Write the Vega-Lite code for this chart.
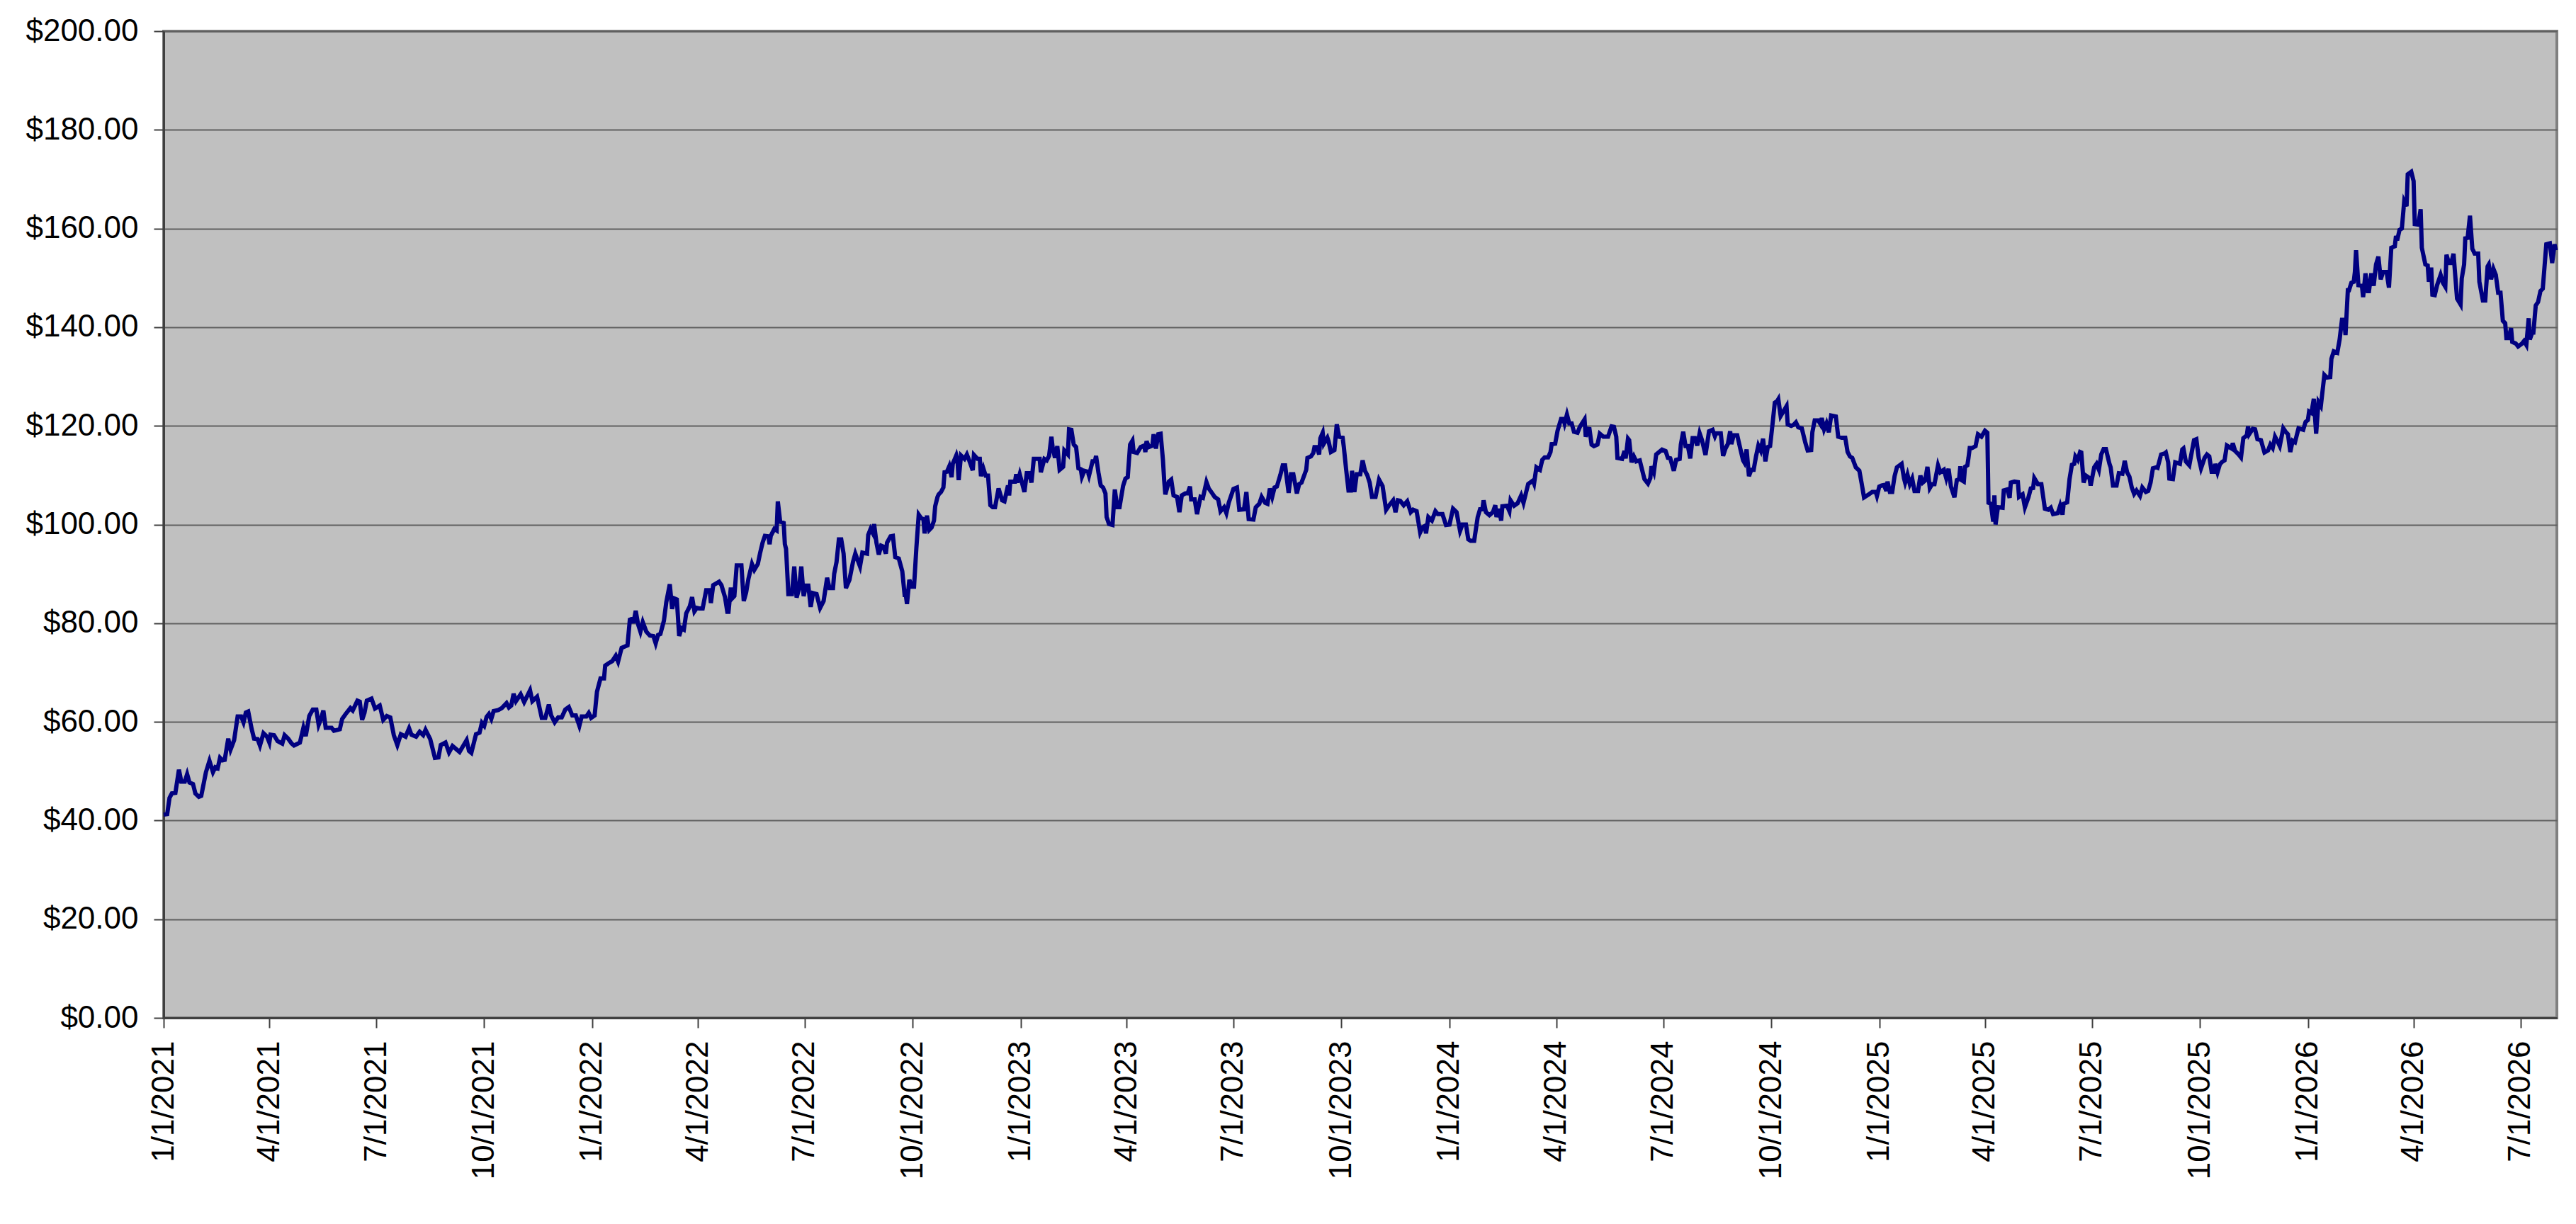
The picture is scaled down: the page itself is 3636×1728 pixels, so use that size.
{
  "$schema": "https://vega.github.io/schema/vega-lite/v6.json",
  "width": 3378,
  "height": 1393,
  "autosize": "none",
  "padding": {"left": 231, "top": 44, "right": 28, "bottom": 291},
  "background": "white",
  "config": {
    "view": {"fill": "#C0C0C0", "stroke": "#808080", "strokeWidth": 4},
    "axis": {
      "labelFont": "Liberation Sans",
      "labelFontSize": 44,
      "labelColor": "black",
      "labelLimit": 500,
      "tickColor": "#404040",
      "tickWidth": 2,
      "tickSize": 14,
      "domainColor": "#404040",
      "domainWidth": 3
    }
  },
  "data": {
    "values": [
      {"date": "2021-01-01", "price": 41.2}, {"date": "2021-01-04", "price": 41.3}, {"date": "2021-01-06", "price": 44.6}, {"date": "2021-01-08", "price": 45.5},
      {"date": "2021-01-11", "price": 45.6}, {"date": "2021-01-14", "price": 50.3}, {"date": "2021-01-16", "price": 47.9}, {"date": "2021-01-19", "price": 47.9},
      {"date": "2021-01-21", "price": 49.4}, {"date": "2021-01-23", "price": 47.7}, {"date": "2021-01-26", "price": 47.4}, {"date": "2021-01-28", "price": 45.5},
      {"date": "2021-01-31", "price": 44.8}, {"date": "2021-02-02", "price": 45.0}, {"date": "2021-02-06", "price": 49.8}, {"date": "2021-02-09", "price": 52.1},
      {"date": "2021-02-12", "price": 49.8}, {"date": "2021-02-14", "price": 50.8}, {"date": "2021-02-16", "price": 50.6}, {"date": "2021-02-18", "price": 52.7},
      {"date": "2021-02-20", "price": 52.2}, {"date": "2021-02-22", "price": 52.3}, {"date": "2021-02-25", "price": 56.6}, {"date": "2021-02-27", "price": 54.4},
      {"date": "2021-03-02", "price": 56.3}, {"date": "2021-03-05", "price": 61.1}, {"date": "2021-03-08", "price": 61.1}, {"date": "2021-03-10", "price": 59.9},
      {"date": "2021-03-12", "price": 61.9}, {"date": "2021-03-14", "price": 62.1}, {"date": "2021-03-17", "price": 58.5}, {"date": "2021-03-19", "price": 56.6},
      {"date": "2021-03-22", "price": 56.5}, {"date": "2021-03-24", "price": 55.2}, {"date": "2021-03-27", "price": 57.7}, {"date": "2021-03-30", "price": 57.0},
      {"date": "2021-04-01", "price": 55.8}, {"date": "2021-04-02", "price": 57.4}, {"date": "2021-04-05", "price": 57.3}, {"date": "2021-04-08", "price": 56.1},
      {"date": "2021-04-12", "price": 55.6}, {"date": "2021-04-14", "price": 57.3}, {"date": "2021-04-17", "price": 56.6}, {"date": "2021-04-20", "price": 55.6},
      {"date": "2021-04-22", "price": 55.2}, {"date": "2021-04-27", "price": 55.8}, {"date": "2021-04-30", "price": 58.8}, {"date": "2021-05-02", "price": 57.1},
      {"date": "2021-05-05", "price": 61.2}, {"date": "2021-05-08", "price": 62.5}, {"date": "2021-05-11", "price": 62.5}, {"date": "2021-05-13", "price": 59.4},
      {"date": "2021-05-15", "price": 60.6}, {"date": "2021-05-17", "price": 62.3}, {"date": "2021-05-19", "price": 58.8}, {"date": "2021-05-24", "price": 58.8},
      {"date": "2021-05-26", "price": 58.2}, {"date": "2021-05-31", "price": 58.5}, {"date": "2021-06-02", "price": 60.6}, {"date": "2021-06-05", "price": 61.6},
      {"date": "2021-06-09", "price": 62.8}, {"date": "2021-06-11", "price": 62.3}, {"date": "2021-06-15", "price": 64.3}, {"date": "2021-06-17", "price": 64.1},
      {"date": "2021-06-19", "price": 60.4}, {"date": "2021-06-21", "price": 61.8}, {"date": "2021-06-23", "price": 64.3}, {"date": "2021-06-27", "price": 64.7},
      {"date": "2021-06-30", "price": 62.7}, {"date": "2021-07-04", "price": 63.3}, {"date": "2021-07-07", "price": 60.4}, {"date": "2021-07-10", "price": 61.2},
      {"date": "2021-07-13", "price": 60.9}, {"date": "2021-07-16", "price": 57.3}, {"date": "2021-07-19", "price": 55.3}, {"date": "2021-07-22", "price": 57.5},
      {"date": "2021-07-26", "price": 57.0}, {"date": "2021-07-29", "price": 58.7}, {"date": "2021-07-31", "price": 57.4}, {"date": "2021-08-04", "price": 57.0},
      {"date": "2021-08-07", "price": 58.0}, {"date": "2021-08-10", "price": 57.3}, {"date": "2021-08-12", "price": 58.4}, {"date": "2021-08-16", "price": 56.5},
      {"date": "2021-08-18", "price": 54.6}, {"date": "2021-08-20", "price": 52.7}, {"date": "2021-08-23", "price": 52.8}, {"date": "2021-08-25", "price": 55.3},
      {"date": "2021-08-29", "price": 55.8}, {"date": "2021-09-01", "price": 53.8}, {"date": "2021-09-04", "price": 55.1}, {"date": "2021-09-10", "price": 53.9},
      {"date": "2021-09-13", "price": 55.1}, {"date": "2021-09-16", "price": 56.3}, {"date": "2021-09-18", "price": 54.1}, {"date": "2021-09-20", "price": 53.7},
      {"date": "2021-09-24", "price": 57.5}, {"date": "2021-09-27", "price": 57.8}, {"date": "2021-09-29", "price": 59.8}, {"date": "2021-10-01", "price": 59.2},
      {"date": "2021-10-03", "price": 61.0}, {"date": "2021-10-05", "price": 61.6}, {"date": "2021-10-07", "price": 60.6}, {"date": "2021-10-09", "price": 62.2},
      {"date": "2021-10-13", "price": 62.4}, {"date": "2021-10-16", "price": 62.8}, {"date": "2021-10-20", "price": 63.8}, {"date": "2021-10-22", "price": 62.9},
      {"date": "2021-10-24", "price": 63.3}, {"date": "2021-10-26", "price": 65.7}, {"date": "2021-10-28", "price": 64.2}, {"date": "2021-11-01", "price": 65.6},
      {"date": "2021-11-04", "price": 64.0}, {"date": "2021-11-09", "price": 66.4}, {"date": "2021-11-11", "price": 64.2}, {"date": "2021-11-15", "price": 65.1},
      {"date": "2021-11-19", "price": 60.8}, {"date": "2021-11-22", "price": 60.8}, {"date": "2021-11-25", "price": 63.5}, {"date": "2021-11-27", "price": 61.3},
      {"date": "2021-11-30", "price": 59.9}, {"date": "2021-12-03", "price": 60.9}, {"date": "2021-12-06", "price": 60.9}, {"date": "2021-12-09", "price": 62.5},
      {"date": "2021-12-12", "price": 63.0}, {"date": "2021-12-15", "price": 61.3}, {"date": "2021-12-18", "price": 61.3}, {"date": "2021-12-21", "price": 59.2},
      {"date": "2021-12-23", "price": 61.1}, {"date": "2021-12-27", "price": 61.1}, {"date": "2021-12-29", "price": 61.8}, {"date": "2021-12-31", "price": 60.8},
      {"date": "2022-01-03", "price": 61.3}, {"date": "2022-01-05", "price": 66.1}, {"date": "2022-01-08", "price": 68.8}, {"date": "2022-01-11", "price": 68.8},
      {"date": "2022-01-12", "price": 71.4}, {"date": "2022-01-15", "price": 71.9}, {"date": "2022-01-18", "price": 72.3}, {"date": "2022-01-21", "price": 73.4},
      {"date": "2022-01-23", "price": 72.2}, {"date": "2022-01-26", "price": 75.0}, {"date": "2022-01-29", "price": 75.3}, {"date": "2022-01-31", "price": 75.5},
      {"date": "2022-02-02", "price": 80.7}, {"date": "2022-02-04", "price": 80.9}, {"date": "2022-02-05", "price": 80.0}, {"date": "2022-02-07", "price": 82.5},
      {"date": "2022-02-09", "price": 79.8}, {"date": "2022-02-11", "price": 78.3}, {"date": "2022-02-13", "price": 80.2}, {"date": "2022-02-16", "price": 78.3},
      {"date": "2022-02-19", "price": 77.5}, {"date": "2022-02-22", "price": 77.4}, {"date": "2022-02-24", "price": 75.9}, {"date": "2022-02-26", "price": 77.6},
      {"date": "2022-02-28", "price": 77.8}, {"date": "2022-03-03", "price": 80.5}, {"date": "2022-03-05", "price": 84.2}, {"date": "2022-03-08", "price": 87.9},
      {"date": "2022-03-10", "price": 82.9}, {"date": "2022-03-12", "price": 85.0}, {"date": "2022-03-14", "price": 84.8}, {"date": "2022-03-16", "price": 77.4},
      {"date": "2022-03-18", "price": 79.0}, {"date": "2022-03-20", "price": 78.7}, {"date": "2022-03-22", "price": 82.0}, {"date": "2022-03-25", "price": 83.4},
      {"date": "2022-03-27", "price": 85.3}, {"date": "2022-03-29", "price": 82.4}, {"date": "2022-03-31", "price": 83.1}, {"date": "2022-04-02", "price": 83.0},
      {"date": "2022-04-05", "price": 83.0}, {"date": "2022-04-08", "price": 86.7}, {"date": "2022-04-11", "price": 86.7}, {"date": "2022-04-12", "price": 84.1},
      {"date": "2022-04-14", "price": 87.7}, {"date": "2022-04-19", "price": 88.4}, {"date": "2022-04-21", "price": 87.7}, {"date": "2022-04-24", "price": 85.3},
      {"date": "2022-04-26", "price": 82.3}, {"date": "2022-04-27", "price": 82.3}, {"date": "2022-04-29", "price": 87.2}, {"date": "2022-04-30", "price": 85.0},
      {"date": "2022-05-02", "price": 85.5}, {"date": "2022-05-04", "price": 91.7}, {"date": "2022-05-08", "price": 91.7}, {"date": "2022-05-10", "price": 84.5},
      {"date": "2022-05-12", "price": 86.2}, {"date": "2022-05-14", "price": 89.0}, {"date": "2022-05-17", "price": 92.0}, {"date": "2022-05-19", "price": 90.8},
      {"date": "2022-05-22", "price": 92.0}, {"date": "2022-05-24", "price": 94.3}, {"date": "2022-05-26", "price": 96.3}, {"date": "2022-05-28", "price": 97.7},
      {"date": "2022-05-31", "price": 97.6}, {"date": "2022-06-01", "price": 96.0}, {"date": "2022-06-02", "price": 97.7}, {"date": "2022-06-05", "price": 99.1},
      {"date": "2022-06-07", "price": 98.8}, {"date": "2022-06-08", "price": 104.7}, {"date": "2022-06-10", "price": 100.6}, {"date": "2022-06-13", "price": 100.3},
      {"date": "2022-06-14", "price": 96.0}, {"date": "2022-06-15", "price": 95.1}, {"date": "2022-06-17", "price": 85.9}, {"date": "2022-06-20", "price": 85.9},
      {"date": "2022-06-22", "price": 91.5}, {"date": "2022-06-24", "price": 85.2}, {"date": "2022-06-26", "price": 86.9}, {"date": "2022-06-28", "price": 91.5},
      {"date": "2022-06-30", "price": 85.5}, {"date": "2022-07-02", "price": 87.6}, {"date": "2022-07-04", "price": 87.6}, {"date": "2022-07-06", "price": 83.3},
      {"date": "2022-07-08", "price": 86.1}, {"date": "2022-07-11", "price": 85.9}, {"date": "2022-07-14", "price": 83.1}, {"date": "2022-07-17", "price": 84.5},
      {"date": "2022-07-20", "price": 89.2}, {"date": "2022-07-22", "price": 87.1}, {"date": "2022-07-25", "price": 87.1}, {"date": "2022-07-26", "price": 90.0},
      {"date": "2022-07-28", "price": 92.4}, {"date": "2022-07-30", "price": 97.0}, {"date": "2022-08-01", "price": 97.0}, {"date": "2022-08-03", "price": 94.1},
      {"date": "2022-08-05", "price": 87.1}, {"date": "2022-08-08", "price": 88.8}, {"date": "2022-08-11", "price": 92.4}, {"date": "2022-08-13", "price": 94.1},
      {"date": "2022-08-17", "price": 91.5}, {"date": "2022-08-19", "price": 94.3}, {"date": "2022-08-23", "price": 94.1}, {"date": "2022-08-24", "price": 97.9},
      {"date": "2022-08-26", "price": 99.1}, {"date": "2022-08-28", "price": 98.2}, {"date": "2022-08-29", "price": 100.1}, {"date": "2022-08-31", "price": 96.3},
      {"date": "2022-09-02", "price": 93.9}, {"date": "2022-09-04", "price": 95.7}, {"date": "2022-09-06", "price": 95.5}, {"date": "2022-09-08", "price": 94.1},
      {"date": "2022-09-09", "price": 96.3}, {"date": "2022-09-12", "price": 97.6}, {"date": "2022-09-14", "price": 97.7}, {"date": "2022-09-16", "price": 93.4},
      {"date": "2022-09-19", "price": 93.1}, {"date": "2022-09-22", "price": 90.5}, {"date": "2022-09-24", "price": 85.7}, {"date": "2022-09-25", "price": 85.7},
      {"date": "2022-09-26", "price": 83.9}, {"date": "2022-09-28", "price": 88.8}, {"date": "2022-09-30", "price": 87.4}, {"date": "2022-10-02", "price": 87.4},
      {"date": "2022-10-04", "price": 95.3}, {"date": "2022-10-06", "price": 102.0}, {"date": "2022-10-08", "price": 101.3}, {"date": "2022-10-10", "price": 101.1},
      {"date": "2022-10-11", "price": 98.2}, {"date": "2022-10-13", "price": 101.8}, {"date": "2022-10-15", "price": 98.9}, {"date": "2022-10-17", "price": 99.4},
      {"date": "2022-10-19", "price": 100.8}, {"date": "2022-10-20", "price": 103.7}, {"date": "2022-10-22", "price": 105.6}, {"date": "2022-10-23", "price": 106.1},
      {"date": "2022-10-25", "price": 106.6}, {"date": "2022-10-27", "price": 107.5}, {"date": "2022-10-28", "price": 110.6}, {"date": "2022-10-30", "price": 110.7},
      {"date": "2022-11-01", "price": 111.8}, {"date": "2022-11-03", "price": 109.6}, {"date": "2022-11-04", "price": 112.3}, {"date": "2022-11-07", "price": 114.0},
      {"date": "2022-11-08", "price": 113.0}, {"date": "2022-11-09", "price": 109.0}, {"date": "2022-11-11", "price": 114.0}, {"date": "2022-11-14", "price": 113.3},
      {"date": "2022-11-16", "price": 114.2}, {"date": "2022-11-18", "price": 113.0}, {"date": "2022-11-21", "price": 111.0}, {"date": "2022-11-22", "price": 114.1},
      {"date": "2022-11-25", "price": 113.3}, {"date": "2022-11-27", "price": 113.3}, {"date": "2022-11-28", "price": 109.8}, {"date": "2022-11-30", "price": 111.4},
      {"date": "2022-12-02", "price": 109.9}, {"date": "2022-12-04", "price": 109.9}, {"date": "2022-12-06", "price": 103.9}, {"date": "2022-12-08", "price": 103.5},
      {"date": "2022-12-10", "price": 103.5}, {"date": "2022-12-13", "price": 107.3}, {"date": "2022-12-16", "price": 104.9}, {"date": "2022-12-18", "price": 104.7},
      {"date": "2022-12-21", "price": 107.9}, {"date": "2022-12-22", "price": 105.9}, {"date": "2022-12-23", "price": 108.7}, {"date": "2022-12-27", "price": 108.7},
      {"date": "2022-12-28", "price": 110.2}, {"date": "2022-12-29", "price": 108.5}, {"date": "2022-12-31", "price": 110.2}, {"date": "2023-01-04", "price": 106.6},
      {"date": "2023-01-06", "price": 110.4}, {"date": "2023-01-08", "price": 110.4}, {"date": "2023-01-10", "price": 108.5}, {"date": "2023-01-12", "price": 113.3},
      {"date": "2023-01-17", "price": 113.3}, {"date": "2023-01-18", "price": 110.6}, {"date": "2023-01-21", "price": 113.3}, {"date": "2023-01-23", "price": 113.0},
      {"date": "2023-01-25", "price": 113.9}, {"date": "2023-01-27", "price": 117.8}, {"date": "2023-01-28", "price": 115.7}, {"date": "2023-01-30", "price": 113.5},
      {"date": "2023-02-01", "price": 115.9}, {"date": "2023-02-03", "price": 111.1}, {"date": "2023-02-06", "price": 111.7}, {"date": "2023-02-07", "price": 115.0},
      {"date": "2023-02-10", "price": 114.2}, {"date": "2023-02-11", "price": 119.3}, {"date": "2023-02-13", "price": 119.2}, {"date": "2023-02-15", "price": 116.2},
      {"date": "2023-02-17", "price": 115.7}, {"date": "2023-02-19", "price": 111.4}, {"date": "2023-02-21", "price": 111.2}, {"date": "2023-02-22", "price": 109.7},
      {"date": "2023-02-24", "price": 110.9}, {"date": "2023-02-27", "price": 110.7}, {"date": "2023-02-28", "price": 109.9}, {"date": "2023-03-03", "price": 112.8},
      {"date": "2023-03-05", "price": 112.8}, {"date": "2023-03-06", "price": 113.9}, {"date": "2023-03-08", "price": 110.6}, {"date": "2023-03-10", "price": 107.9},
      {"date": "2023-03-12", "price": 107.5}, {"date": "2023-03-14", "price": 106.3}, {"date": "2023-03-15", "price": 101.5}, {"date": "2023-03-17", "price": 100.1},
      {"date": "2023-03-20", "price": 99.9}, {"date": "2023-03-22", "price": 107.1}, {"date": "2023-03-24", "price": 103.5}, {"date": "2023-03-26", "price": 103.5},
      {"date": "2023-03-29", "price": 107.8}, {"date": "2023-03-31", "price": 109.3}, {"date": "2023-04-02", "price": 109.6}, {"date": "2023-04-04", "price": 116.2},
      {"date": "2023-04-06", "price": 117.0}, {"date": "2023-04-07", "price": 114.7}, {"date": "2023-04-10", "price": 114.5}, {"date": "2023-04-13", "price": 115.7},
      {"date": "2023-04-16", "price": 116.0}, {"date": "2023-04-17", "price": 114.7}, {"date": "2023-04-18", "price": 116.9}, {"date": "2023-04-20", "price": 115.7},
      {"date": "2023-04-23", "price": 116.0}, {"date": "2023-04-24", "price": 118.3}, {"date": "2023-04-26", "price": 115.4}, {"date": "2023-04-28", "price": 118.3},
      {"date": "2023-04-30", "price": 118.4}, {"date": "2023-05-02", "price": 113.0}, {"date": "2023-05-03", "price": 109.0}, {"date": "2023-05-04", "price": 106.1},
      {"date": "2023-05-07", "price": 108.7}, {"date": "2023-05-09", "price": 109.1}, {"date": "2023-05-11", "price": 105.9}, {"date": "2023-05-14", "price": 105.6},
      {"date": "2023-05-16", "price": 102.5}, {"date": "2023-05-18", "price": 105.9}, {"date": "2023-05-21", "price": 106.3}, {"date": "2023-05-23", "price": 106.3},
      {"date": "2023-05-25", "price": 107.7}, {"date": "2023-05-26", "price": 105.1}, {"date": "2023-05-29", "price": 105.1}, {"date": "2023-05-31", "price": 102.1},
      {"date": "2023-06-03", "price": 105.6}, {"date": "2023-06-05", "price": 105.4}, {"date": "2023-06-08", "price": 108.6}, {"date": "2023-06-10", "price": 107.3},
      {"date": "2023-06-13", "price": 106.3}, {"date": "2023-06-15", "price": 105.6}, {"date": "2023-06-18", "price": 105.1}, {"date": "2023-06-20", "price": 102.7},
      {"date": "2023-06-23", "price": 103.5}, {"date": "2023-06-25", "price": 102.3}, {"date": "2023-06-27", "price": 104.4}, {"date": "2023-07-01", "price": 107.2},
      {"date": "2023-07-04", "price": 107.5}, {"date": "2023-07-06", "price": 103.0}, {"date": "2023-07-10", "price": 103.1}, {"date": "2023-07-12", "price": 106.6},
      {"date": "2023-07-14", "price": 101.1}, {"date": "2023-07-18", "price": 101.0}, {"date": "2023-07-20", "price": 103.5}, {"date": "2023-07-23", "price": 104.2},
      {"date": "2023-07-25", "price": 105.6}, {"date": "2023-07-28", "price": 104.4}, {"date": "2023-07-30", "price": 104.2}, {"date": "2023-08-01", "price": 107.3},
      {"date": "2023-08-03", "price": 105.6}, {"date": "2023-08-05", "price": 107.5}, {"date": "2023-08-07", "price": 107.7}, {"date": "2023-08-10", "price": 110.1},
      {"date": "2023-08-12", "price": 112.0}, {"date": "2023-08-14", "price": 112.0}, {"date": "2023-08-17", "price": 106.4}, {"date": "2023-08-19", "price": 110.2},
      {"date": "2023-08-21", "price": 110.2}, {"date": "2023-08-24", "price": 106.3}, {"date": "2023-08-26", "price": 108.2}, {"date": "2023-08-28", "price": 108.5},
      {"date": "2023-09-01", "price": 111.1}, {"date": "2023-09-02", "price": 113.5}, {"date": "2023-09-05", "price": 113.8}, {"date": "2023-09-07", "price": 114.5},
      {"date": "2023-09-08", "price": 115.7}, {"date": "2023-09-10", "price": 115.7}, {"date": "2023-09-12", "price": 114.2}, {"date": "2023-09-13", "price": 117.5},
      {"date": "2023-09-15", "price": 118.6}, {"date": "2023-09-16", "price": 116.4}, {"date": "2023-09-19", "price": 117.6}, {"date": "2023-09-20", "price": 116.9},
      {"date": "2023-09-22", "price": 114.7}, {"date": "2023-09-25", "price": 115.1}, {"date": "2023-09-27", "price": 120.3}, {"date": "2023-09-29", "price": 117.8},
      {"date": "2023-10-02", "price": 117.6}, {"date": "2023-10-03", "price": 115.7}, {"date": "2023-10-05", "price": 111.1}, {"date": "2023-10-07", "price": 106.9},
      {"date": "2023-10-09", "price": 106.9}, {"date": "2023-10-10", "price": 110.9}, {"date": "2023-10-12", "price": 106.6}, {"date": "2023-10-14", "price": 110.2},
      {"date": "2023-10-17", "price": 110.2}, {"date": "2023-10-19", "price": 113.0}, {"date": "2023-10-21", "price": 110.9}, {"date": "2023-10-23", "price": 110.0},
      {"date": "2023-10-25", "price": 108.5}, {"date": "2023-10-27", "price": 105.6}, {"date": "2023-10-30", "price": 105.6}, {"date": "2023-11-02", "price": 109.1},
      {"date": "2023-11-05", "price": 107.8}, {"date": "2023-11-08", "price": 103.0}, {"date": "2023-11-10", "price": 103.7}, {"date": "2023-11-14", "price": 104.9},
      {"date": "2023-11-16", "price": 102.5}, {"date": "2023-11-18", "price": 104.9}, {"date": "2023-11-20", "price": 104.8}, {"date": "2023-11-23", "price": 103.9},
      {"date": "2023-11-26", "price": 104.7}, {"date": "2023-11-29", "price": 102.5}, {"date": "2023-12-01", "price": 103.0}, {"date": "2023-12-04", "price": 102.7},
      {"date": "2023-12-07", "price": 98.4}, {"date": "2023-12-09", "price": 99.4}, {"date": "2023-12-11", "price": 99.7}, {"date": "2023-12-12", "price": 98.2},
      {"date": "2023-12-14", "price": 101.5}, {"date": "2023-12-17", "price": 100.8}, {"date": "2023-12-20", "price": 102.7}, {"date": "2023-12-22", "price": 102.1},
      {"date": "2023-12-26", "price": 102.1}, {"date": "2023-12-29", "price": 99.9}, {"date": "2024-01-01", "price": 100.0}, {"date": "2024-01-04", "price": 103.2},
      {"date": "2024-01-07", "price": 102.5}, {"date": "2024-01-10", "price": 98.7}, {"date": "2024-01-12", "price": 100.0}, {"date": "2024-01-15", "price": 100.0},
      {"date": "2024-01-17", "price": 97.0}, {"date": "2024-01-19", "price": 96.7}, {"date": "2024-01-22", "price": 96.7}, {"date": "2024-01-25", "price": 101.5},
      {"date": "2024-01-27", "price": 103.1}, {"date": "2024-01-29", "price": 103.1}, {"date": "2024-01-30", "price": 104.9}, {"date": "2024-02-01", "price": 102.5},
      {"date": "2024-02-04", "price": 101.9}, {"date": "2024-02-07", "price": 102.5}, {"date": "2024-02-09", "price": 103.9}, {"date": "2024-02-10", "price": 101.5},
      {"date": "2024-02-12", "price": 103.2}, {"date": "2024-02-14", "price": 100.8}, {"date": "2024-02-15", "price": 103.7}, {"date": "2024-02-19", "price": 103.8},
      {"date": "2024-02-21", "price": 102.7}, {"date": "2024-02-22", "price": 104.9}, {"date": "2024-02-25", "price": 103.8}, {"date": "2024-02-28", "price": 104.3},
      {"date": "2024-03-02", "price": 105.9}, {"date": "2024-03-04", "price": 104.4}, {"date": "2024-03-08", "price": 108.2}, {"date": "2024-03-12", "price": 108.9},
      {"date": "2024-03-13", "price": 108.3}, {"date": "2024-03-15", "price": 111.6}, {"date": "2024-03-18", "price": 111.1}, {"date": "2024-03-20", "price": 113.1},
      {"date": "2024-03-22", "price": 113.6}, {"date": "2024-03-25", "price": 113.6}, {"date": "2024-03-27", "price": 114.7}, {"date": "2024-03-28", "price": 116.3},
      {"date": "2024-03-31", "price": 116.4}, {"date": "2024-04-02", "price": 119.0}, {"date": "2024-04-05", "price": 121.4}, {"date": "2024-04-07", "price": 121.4},
      {"date": "2024-04-08", "price": 120.5}, {"date": "2024-04-10", "price": 122.3}, {"date": "2024-04-12", "price": 120.5}, {"date": "2024-04-14", "price": 120.5},
      {"date": "2024-04-16", "price": 118.8}, {"date": "2024-04-19", "price": 118.6}, {"date": "2024-04-21", "price": 119.8}, {"date": "2024-04-25", "price": 121.3},
      {"date": "2024-04-26", "price": 117.8}, {"date": "2024-04-29", "price": 119.7}, {"date": "2024-05-01", "price": 116.2}, {"date": "2024-05-03", "price": 115.9},
      {"date": "2024-05-06", "price": 116.2}, {"date": "2024-05-08", "price": 118.4}, {"date": "2024-05-11", "price": 117.8}, {"date": "2024-05-15", "price": 117.8},
      {"date": "2024-05-18", "price": 119.9}, {"date": "2024-05-20", "price": 119.8}, {"date": "2024-05-22", "price": 117.8}, {"date": "2024-05-23", "price": 113.5},
      {"date": "2024-05-27", "price": 113.3}, {"date": "2024-05-29", "price": 114.9}, {"date": "2024-05-30", "price": 113.4}, {"date": "2024-06-01", "price": 117.4},
      {"date": "2024-06-02", "price": 117.1}, {"date": "2024-06-04", "price": 112.6}, {"date": "2024-06-06", "price": 113.8}, {"date": "2024-06-08", "price": 112.8},
      {"date": "2024-06-11", "price": 113.0}, {"date": "2024-06-13", "price": 111.1}, {"date": "2024-06-15", "price": 109.2}, {"date": "2024-06-18", "price": 108.3},
      {"date": "2024-06-20", "price": 109.4}, {"date": "2024-06-21", "price": 111.8}, {"date": "2024-06-23", "price": 110.6}, {"date": "2024-06-25", "price": 114.2},
      {"date": "2024-06-30", "price": 115.2}, {"date": "2024-07-03", "price": 114.9}, {"date": "2024-07-05", "price": 113.5}, {"date": "2024-07-07", "price": 113.4},
      {"date": "2024-07-10", "price": 110.9}, {"date": "2024-07-12", "price": 113.1}, {"date": "2024-07-15", "price": 113.3}, {"date": "2024-07-16", "price": 116.2},
      {"date": "2024-07-18", "price": 118.8}, {"date": "2024-07-20", "price": 115.9}, {"date": "2024-07-22", "price": 115.9}, {"date": "2024-07-24", "price": 113.4},
      {"date": "2024-07-26", "price": 117.5}, {"date": "2024-07-28", "price": 117.5}, {"date": "2024-07-30", "price": 116.0}, {"date": "2024-08-01", "price": 118.5},
      {"date": "2024-08-03", "price": 117.1}, {"date": "2024-08-06", "price": 114.1}, {"date": "2024-08-09", "price": 118.9}, {"date": "2024-08-12", "price": 119.2},
      {"date": "2024-08-14", "price": 117.9}, {"date": "2024-08-15", "price": 118.5}, {"date": "2024-08-19", "price": 118.5}, {"date": "2024-08-21", "price": 113.9},
      {"date": "2024-08-23", "price": 115.4}, {"date": "2024-08-25", "price": 116.3}, {"date": "2024-08-27", "price": 118.9}, {"date": "2024-08-28", "price": 116.3},
      {"date": "2024-08-30", "price": 118.1}, {"date": "2024-09-02", "price": 118.1}, {"date": "2024-09-05", "price": 115.0}, {"date": "2024-09-07", "price": 113.0},
      {"date": "2024-09-08", "price": 112.6}, {"date": "2024-09-10", "price": 115.2}, {"date": "2024-09-12", "price": 109.8}, {"date": "2024-09-14", "price": 111.1},
      {"date": "2024-09-16", "price": 111.1}, {"date": "2024-09-18", "price": 113.8}, {"date": "2024-09-20", "price": 116.0}, {"date": "2024-09-22", "price": 115.0},
      {"date": "2024-09-24", "price": 117.4}, {"date": "2024-09-26", "price": 112.8}, {"date": "2024-09-28", "price": 115.7}, {"date": "2024-09-30", "price": 115.9},
      {"date": "2024-10-02", "price": 120.2}, {"date": "2024-10-04", "price": 124.7}, {"date": "2024-10-06", "price": 125.0}, {"date": "2024-10-07", "price": 125.4},
      {"date": "2024-10-09", "price": 122.0}, {"date": "2024-10-11", "price": 122.8}, {"date": "2024-10-14", "price": 124.0}, {"date": "2024-10-15", "price": 120.3},
      {"date": "2024-10-18", "price": 120.0}, {"date": "2024-10-20", "price": 120.2}, {"date": "2024-10-22", "price": 120.7}, {"date": "2024-10-24", "price": 119.7},
      {"date": "2024-10-27", "price": 119.5}, {"date": "2024-10-30", "price": 116.6}, {"date": "2024-11-01", "price": 115.0}, {"date": "2024-11-04", "price": 115.1},
      {"date": "2024-11-05", "price": 118.7}, {"date": "2024-11-07", "price": 121.1}, {"date": "2024-11-10", "price": 121.1}, {"date": "2024-11-12", "price": 120.3},
      {"date": "2024-11-13", "price": 121.6}, {"date": "2024-11-15", "price": 119.3}, {"date": "2024-11-17", "price": 120.5}, {"date": "2024-11-19", "price": 118.7},
      {"date": "2024-11-21", "price": 122.1}, {"date": "2024-11-25", "price": 121.9}, {"date": "2024-11-27", "price": 117.8}, {"date": "2024-11-30", "price": 117.6},
      {"date": "2024-12-03", "price": 117.6}, {"date": "2024-12-05", "price": 114.7}, {"date": "2024-12-07", "price": 113.8}, {"date": "2024-12-09", "price": 113.5},
      {"date": "2024-12-12", "price": 111.6}, {"date": "2024-12-15", "price": 110.9}, {"date": "2024-12-17", "price": 108.3}, {"date": "2024-12-19", "price": 105.5},
      {"date": "2024-12-23", "price": 106.1}, {"date": "2024-12-26", "price": 106.6}, {"date": "2024-12-29", "price": 106.6}, {"date": "2024-12-30", "price": 105.8},
      {"date": "2025-01-01", "price": 107.7}, {"date": "2025-01-03", "price": 107.9}, {"date": "2025-01-05", "price": 108.0}, {"date": "2025-01-07", "price": 106.8},
      {"date": "2025-01-08", "price": 108.7}, {"date": "2025-01-10", "price": 106.6}, {"date": "2025-01-12", "price": 106.6}, {"date": "2025-01-14", "price": 109.8},
      {"date": "2025-01-16", "price": 111.6}, {"date": "2025-01-20", "price": 112.3}, {"date": "2025-01-22", "price": 109.4}, {"date": "2025-01-23", "price": 108.5},
      {"date": "2025-01-25", "price": 110.1}, {"date": "2025-01-27", "price": 108.2}, {"date": "2025-01-29", "price": 109.3}, {"date": "2025-01-31", "price": 106.8},
      {"date": "2025-02-03", "price": 106.8}, {"date": "2025-02-05", "price": 109.9}, {"date": "2025-02-07", "price": 108.5}, {"date": "2025-02-09", "price": 108.9},
      {"date": "2025-02-11", "price": 111.7}, {"date": "2025-02-13", "price": 107.4}, {"date": "2025-02-15", "price": 108.2}, {"date": "2025-02-17", "price": 108.2},
      {"date": "2025-02-20", "price": 112.0}, {"date": "2025-02-22", "price": 110.6}, {"date": "2025-02-25", "price": 111.1}, {"date": "2025-02-27", "price": 109.4},
      {"date": "2025-03-01", "price": 111.3}, {"date": "2025-03-03", "price": 107.7}, {"date": "2025-03-06", "price": 105.5}, {"date": "2025-03-08", "price": 109.0},
      {"date": "2025-03-10", "price": 109.2}, {"date": "2025-03-11", "price": 111.8}, {"date": "2025-03-12", "price": 109.0}, {"date": "2025-03-14", "price": 108.7},
      {"date": "2025-03-15", "price": 111.7}, {"date": "2025-03-17", "price": 112.0}, {"date": "2025-03-18", "price": 113.6}, {"date": "2025-03-19", "price": 115.5},
      {"date": "2025-03-21", "price": 115.5}, {"date": "2025-03-24", "price": 115.9}, {"date": "2025-03-26", "price": 118.3}, {"date": "2025-03-29", "price": 117.8},
      {"date": "2025-04-01", "price": 119.0}, {"date": "2025-04-03", "price": 118.6}, {"date": "2025-04-04", "price": 104.4}, {"date": "2025-04-06", "price": 104.2},
      {"date": "2025-04-08", "price": 100.6}, {"date": "2025-04-09", "price": 105.9}, {"date": "2025-04-10", "price": 100.0}, {"date": "2025-04-12", "price": 103.5},
      {"date": "2025-04-16", "price": 103.4}, {"date": "2025-04-17", "price": 106.9}, {"date": "2025-04-20", "price": 107.1}, {"date": "2025-04-22", "price": 105.4},
      {"date": "2025-04-23", "price": 108.5}, {"date": "2025-04-26", "price": 108.7}, {"date": "2025-04-29", "price": 108.6}, {"date": "2025-04-30", "price": 105.6},
      {"date": "2025-05-03", "price": 106.1}, {"date": "2025-05-05", "price": 103.5}, {"date": "2025-05-08", "price": 105.5}, {"date": "2025-05-10", "price": 107.3},
      {"date": "2025-05-12", "price": 107.4}, {"date": "2025-05-13", "price": 109.4}, {"date": "2025-05-16", "price": 108.2}, {"date": "2025-05-19", "price": 108.2},
      {"date": "2025-05-22", "price": 103.2}, {"date": "2025-05-25", "price": 103.0}, {"date": "2025-05-27", "price": 103.4}, {"date": "2025-05-29", "price": 102.1},
      {"date": "2025-06-02", "price": 102.3}, {"date": "2025-06-04", "price": 103.8}, {"date": "2025-06-06", "price": 102.0}, {"date": "2025-06-07", "price": 104.2},
      {"date": "2025-06-10", "price": 104.5}, {"date": "2025-06-12", "price": 109.2}, {"date": "2025-06-14", "price": 112.1}, {"date": "2025-06-16", "price": 112.3},
      {"date": "2025-06-17", "price": 113.8}, {"date": "2025-06-19", "price": 113.1}, {"date": "2025-06-21", "price": 114.7}, {"date": "2025-06-22", "price": 114.6},
      {"date": "2025-06-24", "price": 108.5}, {"date": "2025-06-26", "price": 109.9}, {"date": "2025-06-29", "price": 109.4}, {"date": "2025-06-30", "price": 107.9},
      {"date": "2025-07-03", "price": 111.6}, {"date": "2025-07-05", "price": 112.3}, {"date": "2025-07-07", "price": 111.1}, {"date": "2025-07-09", "price": 114.2},
      {"date": "2025-07-11", "price": 115.3}, {"date": "2025-07-13", "price": 115.3}, {"date": "2025-07-16", "price": 112.3}, {"date": "2025-07-17", "price": 111.6},
      {"date": "2025-07-19", "price": 107.9}, {"date": "2025-07-22", "price": 107.9}, {"date": "2025-07-24", "price": 110.4}, {"date": "2025-07-27", "price": 110.3},
      {"date": "2025-07-29", "price": 112.9}, {"date": "2025-07-31", "price": 110.6}, {"date": "2025-08-02", "price": 109.7}, {"date": "2025-08-04", "price": 107.5},
      {"date": "2025-08-06", "price": 106.2}, {"date": "2025-08-08", "price": 106.9}, {"date": "2025-08-11", "price": 105.8}, {"date": "2025-08-13", "price": 107.5},
      {"date": "2025-08-16", "price": 106.6}, {"date": "2025-08-18", "price": 106.8}, {"date": "2025-08-20", "price": 108.5}, {"date": "2025-08-22", "price": 111.4},
      {"date": "2025-08-25", "price": 111.6}, {"date": "2025-08-26", "price": 111.5}, {"date": "2025-08-29", "price": 114.2}, {"date": "2025-09-01", "price": 114.4},
      {"date": "2025-09-02", "price": 114.6}, {"date": "2025-09-04", "price": 112.6}, {"date": "2025-09-05", "price": 109.3}, {"date": "2025-09-08", "price": 109.2},
      {"date": "2025-09-10", "price": 112.6}, {"date": "2025-09-14", "price": 112.3}, {"date": "2025-09-16", "price": 115.2}, {"date": "2025-09-17", "price": 115.4},
      {"date": "2025-09-19", "price": 112.8}, {"date": "2025-09-22", "price": 112.0}, {"date": "2025-09-23", "price": 113.3}, {"date": "2025-09-26", "price": 117.1},
      {"date": "2025-09-28", "price": 117.3}, {"date": "2025-09-30", "price": 113.5}, {"date": "2025-10-02", "price": 111.4}, {"date": "2025-10-05", "price": 113.5},
      {"date": "2025-10-07", "price": 114.2}, {"date": "2025-10-09", "price": 113.8}, {"date": "2025-10-11", "price": 110.7}, {"date": "2025-10-13", "price": 110.7},
      {"date": "2025-10-14", "price": 112.3}, {"date": "2025-10-16", "price": 110.6}, {"date": "2025-10-18", "price": 112.2}, {"date": "2025-10-20", "price": 112.7},
      {"date": "2025-10-22", "price": 113.0}, {"date": "2025-10-24", "price": 116.0}, {"date": "2025-10-26", "price": 115.7}, {"date": "2025-10-28", "price": 115.4},
      {"date": "2025-10-29", "price": 116.5}, {"date": "2025-10-31", "price": 114.9}, {"date": "2025-11-03", "price": 114.2}, {"date": "2025-11-05", "price": 113.6},
      {"date": "2025-11-07", "price": 117.5}, {"date": "2025-11-10", "price": 118.1}, {"date": "2025-11-11", "price": 119.9}, {"date": "2025-11-12", "price": 118.3},
      {"date": "2025-11-15", "price": 119.4}, {"date": "2025-11-17", "price": 119.3}, {"date": "2025-11-19", "price": 117.3}, {"date": "2025-11-22", "price": 117.1},
      {"date": "2025-11-25", "price": 114.6}, {"date": "2025-11-28", "price": 115.0}, {"date": "2025-11-30", "price": 116.2}, {"date": "2025-12-02", "price": 115.5},
      {"date": "2025-12-04", "price": 117.8}, {"date": "2025-12-06", "price": 116.9}, {"date": "2025-12-08", "price": 115.9}, {"date": "2025-12-11", "price": 119.5},
      {"date": "2025-12-13", "price": 118.8}, {"date": "2025-12-15", "price": 118.3}, {"date": "2025-12-17", "price": 114.7}, {"date": "2025-12-19", "price": 117.0},
      {"date": "2025-12-21", "price": 116.7}, {"date": "2025-12-24", "price": 119.5}, {"date": "2025-12-28", "price": 119.2}, {"date": "2025-12-30", "price": 120.8},
      {"date": "2026-01-01", "price": 121.2}, {"date": "2026-01-02", "price": 122.9}, {"date": "2026-01-04", "price": 122.6}, {"date": "2026-01-06", "price": 125.5},
      {"date": "2026-01-08", "price": 118.4}, {"date": "2026-01-10", "price": 124.8}, {"date": "2026-01-12", "price": 124.0}, {"date": "2026-01-15", "price": 130.3},
      {"date": "2026-01-17", "price": 129.8}, {"date": "2026-01-20", "price": 129.9}, {"date": "2026-01-21", "price": 133.6}, {"date": "2026-01-23", "price": 135.1},
      {"date": "2026-01-26", "price": 134.8}, {"date": "2026-01-28", "price": 137.5}, {"date": "2026-01-30", "price": 141.5}, {"date": "2026-02-01", "price": 141.5},
      {"date": "2026-02-02", "price": 138.4}, {"date": "2026-02-04", "price": 147.5}, {"date": "2026-02-05", "price": 147.5}, {"date": "2026-02-07", "price": 149.0},
      {"date": "2026-02-09", "price": 149.2}, {"date": "2026-02-10", "price": 151.2}, {"date": "2026-02-11", "price": 155.6}, {"date": "2026-02-13", "price": 148.5},
      {"date": "2026-02-16", "price": 148.4}, {"date": "2026-02-17", "price": 146.1}, {"date": "2026-02-19", "price": 150.9}, {"date": "2026-02-21", "price": 147.3},
      {"date": "2026-02-22", "price": 147.3}, {"date": "2026-02-24", "price": 150.9}, {"date": "2026-02-26", "price": 148.4}, {"date": "2026-02-28", "price": 152.7},
      {"date": "2026-03-02", "price": 154.3}, {"date": "2026-03-04", "price": 149.7}, {"date": "2026-03-06", "price": 151.2}, {"date": "2026-03-09", "price": 151.2},
      {"date": "2026-03-11", "price": 148.0}, {"date": "2026-03-13", "price": 156.1}, {"date": "2026-03-16", "price": 156.4}, {"date": "2026-03-17", "price": 158.5},
      {"date": "2026-03-18", "price": 157.6}, {"date": "2026-03-20", "price": 159.7}, {"date": "2026-03-22", "price": 160.0}, {"date": "2026-03-24", "price": 165.5},
      {"date": "2026-03-26", "price": 164.5}, {"date": "2026-03-27", "price": 171.0}, {"date": "2026-03-30", "price": 171.5}, {"date": "2026-04-01", "price": 169.6},
      {"date": "2026-04-02", "price": 160.9}, {"date": "2026-04-05", "price": 160.8}, {"date": "2026-04-07", "price": 163.9}, {"date": "2026-04-08", "price": 156.1},
      {"date": "2026-04-11", "price": 152.7}, {"date": "2026-04-13", "price": 152.5}, {"date": "2026-04-14", "price": 149.2}, {"date": "2026-04-16", "price": 152.1},
      {"date": "2026-04-17", "price": 146.6}, {"date": "2026-04-19", "price": 146.5}, {"date": "2026-04-21", "price": 148.5}, {"date": "2026-04-24", "price": 150.6},
      {"date": "2026-04-26", "price": 149.0}, {"date": "2026-04-28", "price": 148.2}, {"date": "2026-04-29", "price": 154.7}, {"date": "2026-05-01", "price": 153.0},
      {"date": "2026-05-03", "price": 153.0}, {"date": "2026-05-05", "price": 154.9}, {"date": "2026-05-08", "price": 145.8}, {"date": "2026-05-11", "price": 144.6},
      {"date": "2026-05-12", "price": 149.9}, {"date": "2026-05-14", "price": 152.7}, {"date": "2026-05-15", "price": 158.0}, {"date": "2026-05-17", "price": 158.1},
      {"date": "2026-05-19", "price": 162.6}, {"date": "2026-05-21", "price": 155.9}, {"date": "2026-05-23", "price": 154.9}, {"date": "2026-05-26", "price": 154.9},
      {"date": "2026-05-27", "price": 149.2}, {"date": "2026-05-30", "price": 145.4}, {"date": "2026-06-01", "price": 145.4}, {"date": "2026-06-03", "price": 152.3},
      {"date": "2026-06-04", "price": 152.7}, {"date": "2026-06-06", "price": 149.7}, {"date": "2026-06-08", "price": 151.8}, {"date": "2026-06-10", "price": 150.6},
      {"date": "2026-06-12", "price": 147.0}, {"date": "2026-06-14", "price": 147.0}, {"date": "2026-06-16", "price": 141.3}, {"date": "2026-06-18", "price": 140.8},
      {"date": "2026-06-19", "price": 137.8}, {"date": "2026-06-21", "price": 137.8}, {"date": "2026-06-23", "price": 139.8}, {"date": "2026-06-24", "price": 137.0},
      {"date": "2026-06-27", "price": 136.7}, {"date": "2026-06-29", "price": 136.1}, {"date": "2026-07-02", "price": 136.6}, {"date": "2026-07-04", "price": 137.2},
      {"date": "2026-07-06", "price": 136.4}, {"date": "2026-07-08", "price": 141.8}, {"date": "2026-07-09", "price": 137.5}, {"date": "2026-07-11", "price": 138.9},
      {"date": "2026-07-12", "price": 138.9}, {"date": "2026-07-14", "price": 144.4}, {"date": "2026-07-16", "price": 145.1}, {"date": "2026-07-18", "price": 147.3},
      {"date": "2026-07-20", "price": 147.8}, {"date": "2026-07-23", "price": 156.8}, {"date": "2026-07-26", "price": 157.0}, {"date": "2026-07-28", "price": 153.0},
      {"date": "2026-07-30", "price": 156.8}, {"date": "2026-07-31", "price": 155.6}
    ]
  },
  "mark": {"type": "line", "color": "#000080", "strokeWidth": 6},
  "encoding": {
    "x": {
      "field": "date",
      "type": "temporal",
      "scale": {
        "domain": [
          {"year": 2021, "month": 1, "date": 1},
          {"year": 2026, "month": 8, "date": 1}
        ],
        "nice": false
      },
      "axis": {
        "title": null,
        "format": "%-m/%-d/%Y",
        "tickCount": {"interval": "month", "step": 3},
        "labelAngle": 270,
        "labelPadding": 18,
        "labelOverlap": false,
        "labelFlush": false,
        "labelBound": false,
        "grid": false
      }
    },
    "y": {
      "field": "price",
      "type": "quantitative",
      "scale": {"domain": [0, 200], "nice": false},
      "axis": {
        "title": null,
        "values": [0, 20, 40, 60, 80, 100, 120, 140, 160, 180, 200],
        "format": "$.2f",
        "grid": true,
        "gridColor": "#606060",
        "gridWidth": 2,
        "labelPadding": 22
      }
    }
  }
}
